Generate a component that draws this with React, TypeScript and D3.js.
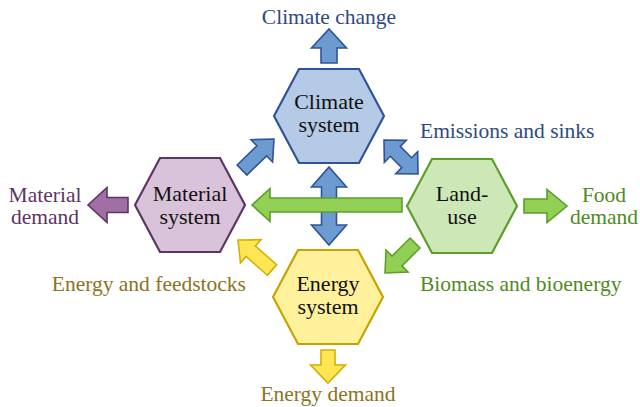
import React from "react";
import * as d3 from "d3";

const W = 640;
const H = 407;

// node labels and look
const nodeIds = ["climate", "material", "land", "energy"];
const nodeLines = [["Climate", "system"], ["Material", "system"], ["Land-", "use"], ["Energy", "system"]];
const nodeFill = ["#B4CAE6", "#D9C3DA", "#CDE7B6", "#FFF09C"];
const nodeStroke = ["#2F5496", "#5C3566", "#5B9F2A", "#C7A200"];

// outside labels
const outLabels = ["Climate change", "Material demand", "Food demand", "Emissions and sinks", "Biomass and bioenergy", "Energy and feedstocks", "Energy demand"];
const outColors = ["#2F4A80", "#5C3566", "#4F8A22", "#2F4A80", "#4F8A22", "#8C7322", "#8C7322"];

// layout (pixels)
const centers: Record<string, [number, number]> = {
  climate: [329, 116],
  material: [190, 205],
  land: [462, 206],
  energy: [328, 297],
};

const HEX_W = 55;
const HEX_H = 47;
const HEX_TOP = 30;

const FONT = "Liberation Serif";

const line = d3.line<[number, number]>().curve(d3.curveLinearClosed);

function hexPath(cx: number, cy: number) {
  const pts: [number, number][] = [
    [cx - HEX_W, cy],
    [cx - HEX_TOP, cy - HEX_H],
    [cx + HEX_TOP, cy - HEX_H],
    [cx + HEX_W, cy],
    [cx + HEX_TOP, cy + HEX_H],
    [cx - HEX_TOP, cy + HEX_H],
  ];
  return line(pts) || "";
}

function arrowPath(x1: number, y1: number, x2: number, y2: number, s: number, hw: number, hl: number, double = false) {
  const dx = x2 - x1;
  const dy = y2 - y1;
  const L = Math.hypot(dx, dy);
  const ux = dx / L, uy = dy / L;
  const vx = -uy, vy = ux;
  const local: [number, number][] = double
    ? [[hl, -s / 2], [L - hl, -s / 2], [L - hl, -hw / 2], [L, 0], [L - hl, hw / 2], [L - hl, s / 2], [hl, s / 2], [hl, hw / 2], [0, 0], [hl, -hw / 2]]
    : [[0, -s / 2], [L - hl, -s / 2], [L - hl, -hw / 2], [L, 0], [L - hl, hw / 2], [L - hl, s / 2], [0, s / 2]];
  const pts = local.map(([a, b]) => [x1 + ux * a + vx * b, y1 + uy * a + vy * b] as [number, number]);
  return line(pts) || "";
}

type Arrow = { from: [number, number]; to: [number, number]; s: number; hw: number; hl: number; double?: boolean; fill: string; stroke: string };

const BLUE = ["#6B9BD1", "#2F5496"];
const GREEN = ["#92CF55", "#5B9F2A"];
const YELLOW = ["#FFE552", "#D1B000"];
const PURPLE = ["#A06FA3", "#5C3566"];

const arrows: Arrow[] = [
  { from: [329, 63], to: [329, 29], s: 16, hw: 35, hl: 19, fill: BLUE[0], stroke: BLUE[1] },
  { from: [128, 205], to: [88, 205], s: 15, hw: 35, hl: 19, fill: PURPLE[0], stroke: PURPLE[1] },
  { from: [524, 206], to: [567, 206], s: 14, hw: 33, hl: 20, fill: GREEN[0], stroke: GREEN[1] },
  { from: [328, 350], to: [328, 383], s: 14, hw: 35, hl: 18, fill: YELLOW[0], stroke: YELLOW[1] },
  { from: [242, 170], to: [274, 139], s: 14, hw: 31, hl: 17, fill: BLUE[0], stroke: BLUE[1] },
  { from: [384, 140], to: [418, 174], s: 14, hw: 31, hl: 16, double: true, fill: BLUE[0], stroke: BLUE[1] },
  { from: [329, 167], to: [329, 245], s: 15, hw: 35, hl: 20, double: true, fill: BLUE[0], stroke: BLUE[1] },
  { from: [402, 205], to: [252, 205], s: 14, hw: 33, hl: 18, fill: GREEN[0], stroke: GREEN[1] },
  { from: [415, 243], to: [385, 273], s: 14, hw: 31, hl: 17, fill: GREEN[0], stroke: GREEN[1] },
  { from: [272, 270], to: [238, 240], s: 14, hw: 31, hl: 17, fill: YELLOW[0], stroke: YELLOW[1] },
];

const outPos: { x: number; y: number[]; anchor: string }[] = [
  { x: 329, y: [24], anchor: "middle" },
  { x: 45, y: [202, 224], anchor: "middle" },
  { x: 604, y: [202, 224], anchor: "middle" },
  { x: 420, y: [138], anchor: "start" },
  { x: 420, y: [291], anchor: "start" },
  { x: 246, y: [291], anchor: "end" },
  { x: 328, y: [401], anchor: "middle" },
];

const nodeBaselines = [[109, 132], [201, 224], [201, 224], [291, 314]];

export default function App() {
  return (
    <svg width={W} height={H} style={{ position: "absolute", left: 0, top: 0, background: "#fff" }}>
      {nodeIds.map((id, i) => (
        <path key={id} d={hexPath(...centers[id])} fill={nodeFill[i]} stroke={nodeStroke[i]} strokeWidth={2.2} strokeLinejoin="miter" />
      ))}
      {arrows.map((a, i) => (
        <path key={i} d={arrowPath(a.from[0], a.from[1], a.to[0], a.to[1], a.s, a.hw, a.hl, a.double)} fill={a.fill} stroke={a.stroke} strokeWidth={1.6} />
      ))}
      {nodeIds.map((id, i) => (
        <text key={id} textAnchor="middle" fontSize={22} fill="#111" fontFamily={FONT}>
          {nodeLines[i].map((t, j) => (
            <tspan key={j} x={centers[id][0]} y={nodeBaselines[i][j]}>{t}</tspan>
          ))}
        </text>
      ))}
      {outLabels.map((lab, i) => {
        const p = outPos[i];
        const parts = p.y.length > 1 ? lab.split(" ") : [lab];
        return (
          <text key={lab} textAnchor={p.anchor} fontSize={21.5} fill={outColors[i]} fontFamily={FONT}>
            {parts.map((t, j) => (
              <tspan key={j} x={p.x} y={p.y[j]}>{t}</tspan>
            ))}
          </text>
        );
      })}
    </svg>
  );
}
